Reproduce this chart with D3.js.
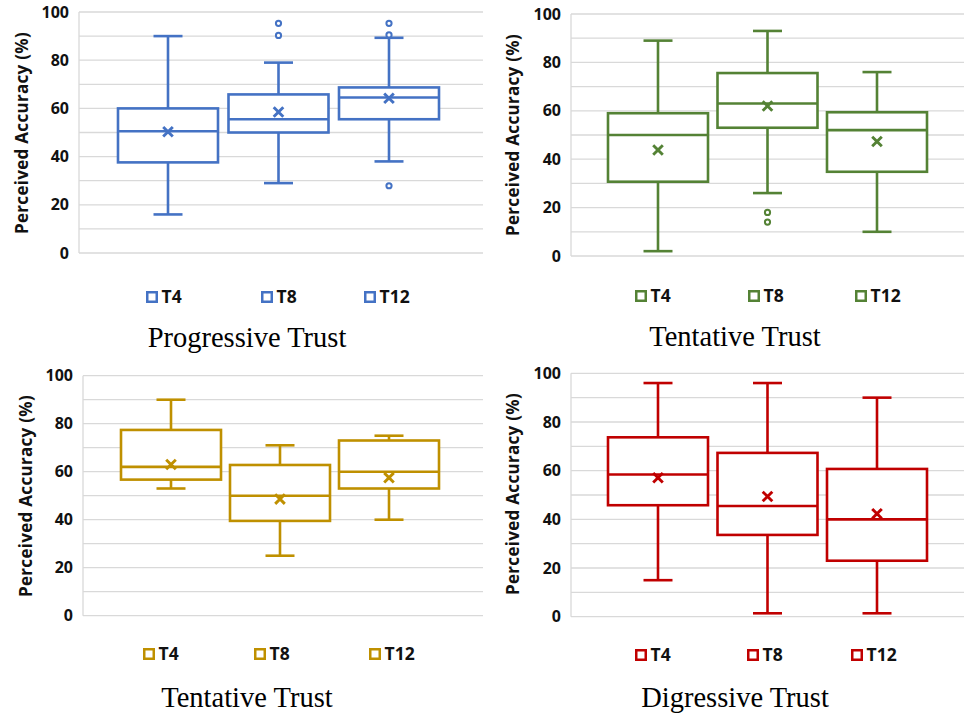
<!DOCTYPE html>
<html>
<head>
<meta charset="utf-8">
<script src="https://cdn.jsdelivr.net/npm/d3@7"></script>
<style>
  html, body { margin: 0; padding: 0; background: #fff; }
  svg { display: block; }
</style>
</head>
<body>
<svg id="chart" width="964" height="714"></svg>
<script>
// Series shown in every panel and the value axis ticks
const series = ["T4", "T8", "T12"];
const yTicks = [0, 20, 40, 60, 80, 100];
const gridValues = [0, 10, 20, 30, 40, 50, 60, 70, 80, 90, 100];

// Box statistics per series: [whisker low, Q1, median, Q3, whisker high, mean]
const progressiveBoxes = [
  [16, 37.6, 50.5, 60, 90, 50.3],
  [29, 50, 55.5, 65.8, 79, 58.5],
  [38, 55.5, 64.5, 68.7, 89.3, 64.2]
];
const progressiveOutliers = [[], [90.3, 95.3], [27.9, 90.5, 95.3]];

const tentativeGreenBoxes = [
  [2, 30.7, 50, 59, 89, 43.8],
  [26, 53, 63, 75.6, 93, 62],
  [10, 34.8, 52, 59.4, 76, 47.3]
];
const tentativeGreenOutliers = [[], [14, 18], []];

const tentativeGoldBoxes = [
  [53, 56.7, 62, 77.4, 90, 63],
  [25, 39.5, 50, 62.8, 71, 48.6],
  [40, 53, 60, 73, 75, 57.5]
];
const tentativeGoldOutliers = [[], [], []];

const digressiveBoxes = [
  [15, 45.8, 58.4, 73.7, 96, 57.1],
  [1.4, 33.6, 45.5, 67.3, 96, 49.4],
  [1.4, 23, 40, 60.7, 90, 42.3]
];
const digressiveOutliers = [[], [], []];

const panelTitles = ["Progressive Trust", "Tentative Trust", "Tentative Trust", "Digressive Trust"];
const panelColors = ["#4472C4", "#548235", "#BF9000", "#C00000"];
const yLabel = "Perceived Accuracy (%)";

// Layout of each of the four panels
const layouts = [
  { left: 79,  right: 483, top: 12,    bottom: 253,   firstX: 168, lastX: 389, tickRight: 69,  labelX: 21,  labelY: 133, legendX: [146, 261, 364], legendY: 291, titleX: 247, titleY: 346.5 },
  { left: 571, right: 966, top: 14,    bottom: 256,   firstX: 658, lastX: 877, tickRight: 561, labelX: 512, labelY: 135, legendX: [635, 748, 855], legendY: 290, titleX: 735, titleY: 346 },
  { left: 83,  right: 483, top: 375.7, bottom: 615.7, firstX: 171, lastX: 389, tickRight: 73,  labelX: 25,  labelY: 496, legendX: [143, 254, 369], legendY: 648, titleX: 247, titleY: 707 },
  { left: 571, right: 966, top: 373.3, bottom: 616.7, firstX: 658, lastX: 877, tickRight: 561, labelX: 512, labelY: 494, legendX: [635, 747, 851], legendY: 649, titleX: 735, titleY: 707 }
];

const panelData = [
  { boxes: progressiveBoxes, outliers: progressiveOutliers },
  { boxes: tentativeGreenBoxes, outliers: tentativeGreenOutliers },
  { boxes: tentativeGoldBoxes, outliers: tentativeGoldOutliers },
  { boxes: digressiveBoxes, outliers: digressiveOutliers }
];

const svg = d3.select("#chart");
svg.append("rect").attr("width", 964).attr("height", 714).attr("fill", "#fff");

const sansFont = "'Open Sans', 'Noto Sans', sans-serif";
const BOX_W = 100, CAP_W = 29, STROKE = 2.6;

layouts.forEach((L, i) => {
  const color = panelColors[i];
  const { boxes, outliers } = panelData[i];
  const g = svg.append("g");

  const y = d3.scaleLinear().domain([0, 100]).range([L.bottom, L.top]);
  const x = d3.scalePoint().domain(series).range([L.firstX, L.lastX]);

  // Horizontal gridlines every 10 units
  g.append("g").selectAll("line").data(gridValues).join("line")
    .attr("x1", L.left).attr("x2", L.right)
    .attr("y1", d => y(d)).attr("y2", d => y(d))
    .attr("stroke", "#d9d9d9").attr("stroke-width", 1.3);

  // Left edge of the plot area
  g.append("line")
    .attr("x1", L.left).attr("x2", L.left)
    .attr("y1", y(0)).attr("y2", y(100))
    .attr("stroke", "#d9d9d9").attr("stroke-width", 1.3);

  // Value axis labels
  const axis = d3.axisLeft(y).tickValues(yTicks).tickSize(0).tickPadding(L.left - L.tickRight);
  const ax = g.append("g").attr("transform", `translate(${L.left},0)`).call(axis);
  ax.select(".domain").remove();
  ax.selectAll("text")
    .attr("font-family", sansFont).attr("font-weight", 700)
    .attr("font-size", 16).attr("fill", "#111");

  // Axis title
  g.append("text")
    .attr("transform", `translate(${L.labelX},${L.labelY}) rotate(-90)`)
    .attr("text-anchor", "middle").attr("dominant-baseline", "central")
    .attr("font-family", sansFont).attr("font-weight", 700)
    .attr("font-size", 17).attr("letter-spacing", 0.3).attr("fill", "#111")
    .text(yLabel);

  // Box plots
  series.forEach((s, k) => {
    const [lo, q1, med, q3, hi, mean] = boxes[k];
    const cx = x(s);
    const bg = g.append("g").attr("stroke", color).attr("stroke-width", STROKE).attr("fill", "none");

    // whiskers
    bg.append("line").attr("x1", cx).attr("x2", cx).attr("y1", y(q3)).attr("y2", y(hi));
    bg.append("line").attr("x1", cx).attr("x2", cx).attr("y1", y(q1)).attr("y2", y(lo));
    bg.append("line").attr("x1", cx - CAP_W / 2).attr("x2", cx + CAP_W / 2).attr("y1", y(hi)).attr("y2", y(hi));
    bg.append("line").attr("x1", cx - CAP_W / 2).attr("x2", cx + CAP_W / 2).attr("y1", y(lo)).attr("y2", y(lo));

    // box and median
    bg.append("rect")
      .attr("x", cx - BOX_W / 2).attr("width", BOX_W)
      .attr("y", y(q3)).attr("height", y(q1) - y(q3))
      .attr("fill", "#fff");
    bg.append("line").attr("x1", cx - BOX_W / 2).attr("x2", cx + BOX_W / 2).attr("y1", y(med)).attr("y2", y(med));

    // mean marker
    const m = 4.8, my = y(mean);
    const p = d3.path();
    p.moveTo(cx - m, my - m); p.lineTo(cx + m, my + m);
    p.moveTo(cx + m, my - m); p.lineTo(cx - m, my + m);
    bg.append("path").attr("d", p.toString()).attr("stroke-width", 2.9);

    // outliers
    bg.selectAll("circle").data(outliers[k]).join("circle")
      .attr("cx", cx).attr("cy", d => y(d)).attr("r", 2.6)
      .attr("fill", "#fff").attr("stroke-width", 2);
  });

  // Legend
  series.forEach((s, k) => {
    const lx = L.legendX[k];
    g.append("rect")
      .attr("x", lx + 1.25).attr("y", L.legendY + 1.25)
      .attr("width", 9.5).attr("height", 9.5)
      .attr("fill", "#fff").attr("stroke", color).attr("stroke-width", 2.5);
    g.append("text")
      .attr("x", lx + 15.5).attr("y", L.legendY + 11.8)
      .attr("font-family", sansFont).attr("font-weight", 700)
      .attr("font-size", 17.5).attr("fill", "#111")
      .text(s);
  });

  // Panel caption
  g.append("text")
    .attr("x", L.titleX).attr("y", L.titleY)
    .attr("text-anchor", "middle")
    .attr("font-family", "'Liberation Serif', 'Times New Roman', serif")
    .attr("font-size", 28.5).attr("fill", "#000")
    .text(panelTitles[i]);
});
</script>
</body>
</html>
